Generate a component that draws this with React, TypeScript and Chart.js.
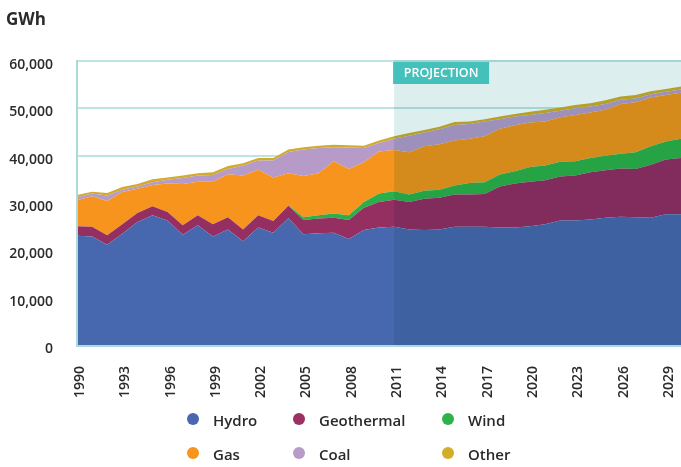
import React, { useEffect, useRef } from 'react';
import { Chart, registerables } from 'chart.js';

Chart.register(...registerables);

const years = [
  '1990', '1991', '1992', '1993', '1994', '1995', '1996', '1997', '1998', '1999',
  '2000', '2001', '2002', '2003', '2004', '2005', '2006', '2007', '2008', '2009',
  '2010', '2011', '2012', '2013', '2014', '2015', '2016', '2017', '2018', '2019',
  '2020', '2021', '2022', '2023', '2024', '2025', '2026', '2027', '2028', '2029', '2030',
];

const tickYears = ['1990', '1993', '1996', '1999', '2002', '2005', '2008', '2011', '2014', '2017', '2020', '2023', '2026', '2029'];

const projectionStart = '2011';

const hydro = [
  23100, 22900, 21200, 23500, 26000, 27400, 26300, 23300, 25300, 22900,
  24400, 21900, 24800, 23700, 26800, 23400, 23600, 23700, 22400, 24300,
  24800, 25000, 24400, 24300, 24400, 25000, 25000, 25000, 24800, 24800,
  25100, 25500, 26300, 26300, 26500, 26900, 27100, 27000, 26900, 27600, 27600,
];

const geothermal = [
  2000, 2100, 2000, 2000, 1900, 1900, 1800, 2000, 2100, 2600,
  2600, 2500, 2600, 2500, 2600, 3000, 3100, 3200, 4000, 4700,
  5400, 5700, 5800, 6600, 6700, 6800, 6800, 6900, 8700, 9300,
  9400, 9300, 9300, 9500, 10000, 10000, 10200, 10200, 11200, 11600, 11900,
];

const wind = [
  0, 0, 0, 0, 0, 0, 0, 0, 0, 0,
  0, 0, 0, 0, 100, 600, 700, 900, 1000, 1200,
  1800, 1800, 1600, 1700, 1700, 1900, 2400, 2500, 2500, 2600,
  3100, 3100, 3100, 3000, 3000, 3100, 3100, 3500, 3900, 3800, 4100,
];

const gas = [
  5500, 6400, 7200, 6800, 5100, 4500, 6000, 8700, 7100, 9000,
  9100, 11400, 9600, 9200, 6800, 8700, 8900, 11000, 9800, 8400,
  8900, 8700, 8900, 9400, 9600, 9500, 9400, 9700, 9700, 9700,
  9400, 9300, 9400, 9800, 9600, 9700, 10500, 10600, 10300, 9800, 9700,
];

const coal = [
  600, 600, 1200, 500, 500, 600, 800, 1300, 1300, 1400,
  1100, 2100, 2000, 3600, 4500, 5600, 5300, 3000, 4500, 3000,
  1800, 2400, 3500, 2900, 3200, 3300, 3100, 3100, 2000, 1900,
  1600, 1800, 1400, 1400, 1300, 1200, 900, 800, 700, 700, 700,
];

const other = [
  500, 400, 500, 600, 500, 600, 500, 500, 500, 600,
  600, 500, 500, 500, 500, 500, 500, 500, 500, 500,
  500, 500, 600, 500, 500, 600, 500, 500, 600, 500,
  700, 700, 700, 700, 700, 800, 700, 700, 600, 600, 600,
];

const seriesNames = ['Hydro', 'Geothermal', 'Wind', 'Gas', 'Coal', 'Other'];
const seriesValues = [hydro, geothermal, wind, gas, coal, other];
const areaColors = ['#4767ae', '#952f62', '#2caf4a', '#f7941d', '#b69ac8', '#d2ab2a'];
const legendColors = ['#4a67b0', '#9c2f63', '#2db34a', '#f7941d', '#b79bc9', '#d3ae27'];

const legendCols = [193, 299, 448];
const legendRows = [419, 453];

const FONT = '"Open Sans", "DejaVu Sans", sans-serif';

const projectionPlugin = {
  id: 'projection',
  afterDatasetsDraw(chart: any) {
    const { ctx, chartArea, scales } = chart;
    const xs = scales.x;
    const x0 = xs.getPixelForValue(years.indexOf(projectionStart));
    ctx.save();
    ctx.globalCompositeOperation = 'multiply';
    ctx.fillStyle = 'rgb(220,239,238)';
    ctx.fillRect(x0, chartArea.top - 1, chartArea.right - x0, chartArea.bottom - chartArea.top + 1);
    ctx.restore();

    ctx.save();
    ctx.strokeStyle = '#abdbd9';
    ctx.lineWidth = 2;
    ctx.beginPath();
    ctx.moveTo(chartArea.left, chartArea.top - 1);
    ctx.lineTo(chartArea.left, chartArea.bottom + 1);
    ctx.lineTo(chartArea.right, chartArea.bottom + 1);
    ctx.stroke();

    ctx.fillStyle = '#45c1bb';
    ctx.fillRect(x0 - 1, chartArea.top + 1, 96, 22);
    ctx.fillStyle = '#ffffff';
    ctx.font = `600 12.5px ${FONT}`;
    ctx.textAlign = 'center';
    ctx.textBaseline = 'middle';
    ctx.fillText('PROJECTION', x0 - 1 + 48, chartArea.top + 12.5);
    ctx.restore();
  },
};

export default function App() {
  const ref = useRef<HTMLCanvasElement>(null);

  useEffect(() => {
    const canvas = ref.current;
    if (!canvas) return;
    const chart = new Chart(canvas, {
      type: 'line',
      data: {
        labels: years,
        datasets: seriesNames.map((name, i) => ({
          label: name,
          data: seriesValues[i],
          backgroundColor: areaColors[i],
          borderColor: areaColors[i],
          borderWidth: 0,
          fill: i === 0 ? 'origin' : '-1',
          pointRadius: 0,
          tension: 0,
        })),
      },
      options: {
        animation: false,
        responsive: false,
        maintainAspectRatio: false,
        layout: { padding: { top: 61, left: 0, right: 0, bottom: 0 } },
        plugins: {
          legend: { display: false },
          tooltip: { enabled: false },
          title: { display: false },
        },
        scales: {
          x: {
            grid: { display: false },
            border: { display: false },
            ticks: {
              autoSkip: false,
              minRotation: 90,
              maxRotation: 90,
              padding: 13,
              labelOffset: 3,
              color: '#2a2a2a',
              font: { family: FONT, size: 14, weight: '600' },
              callback: (_v: any, idx: number) => (tickYears.includes(years[idx]) ? years[idx] : ''),
            },
            afterFit: (s: any) => {
              s.height = 122;
              s.paddingRight = 0;
              s.paddingLeft = 0;
            },
          },
          y: {
            stacked: true,
            min: 0,
            max: 60000,
            grid: { color: '#bfe3e1', lineWidth: 2, drawTicks: false },
            border: { display: false },
            ticks: {
              stepSize: 10000,
              padding: 24,
              labelOffset: 4,
              color: '#2a2a2a',
              font: { family: FONT, size: 14, weight: '600' },
              callback: (v: any) => Number(v).toLocaleString('en-US'),
            },
            afterFit: (s: any) => {
              s.width = 77;
              s.paddingTop = 0;
              s.paddingBottom = 0;
            },
          },
        },
      },
      plugins: [projectionPlugin],
    });
    return () => chart.destroy();
  }, []);

  return (
    <div style={{ position: 'absolute', left: 0, top: 0, width: 681, height: 467, background: '#fff', overflow: 'hidden' }}>
      <canvas ref={ref} width={681} height={467} style={{ position: 'absolute', left: 0, top: 0, width: 681, height: 467 }} />
      <div
        style={{
          position: 'absolute',
          left: 6,
          top: 7,
          fontFamily: FONT,
          fontWeight: 700,
          fontSize: 17,
          lineHeight: '24px',
          color: '#2a2a2a',
        }}
      >
        GWh
      </div>
      {seriesNames.map((name, i) => {
        const col = i % 3;
        const row = Math.floor(i / 3);
        const cx = legendCols[col];
        const cy = legendRows[row];
        return (
          <div key={name}>
            <div
              style={{
                position: 'absolute',
                left: cx - 6,
                top: cy - 6,
                width: 12,
                height: 12,
                borderRadius: '50%',
                background: legendColors[i],
              }}
            />
            <div
              style={{
                position: 'absolute',
                left: cx + 20,
                top: cy - 9,
                fontFamily: FONT,
                fontWeight: 600,
                fontSize: 15,
                lineHeight: '20px',
                color: '#2a2a2a',
                whiteSpace: 'nowrap',
              }}
            >
              {name}
            </div>
          </div>
        );
      })}
    </div>
  );
}
